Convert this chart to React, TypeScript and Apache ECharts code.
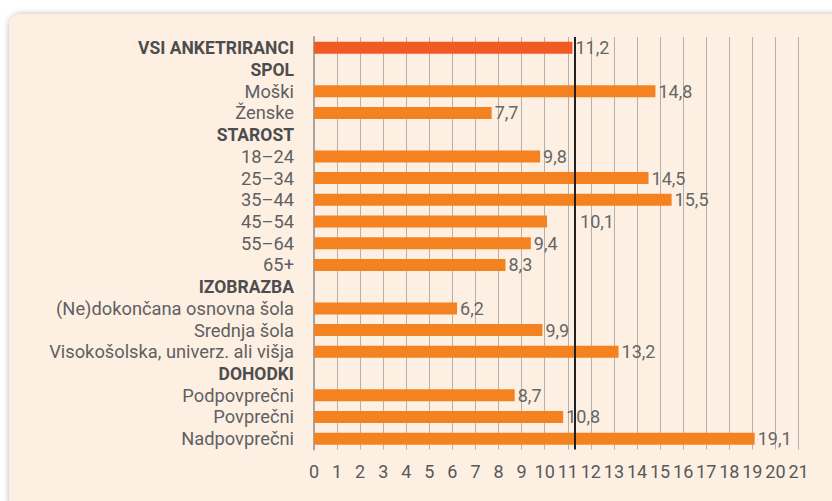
import React, { useEffect, useRef } from "react";
import * as echarts from "echarts";

const categories: string[] = [
  "VSI ANKETRIRANCI",
  "SPOL",
  "Moški",
  "Ženske",
  "STAROST",
  "18–24",
  "25–34",
  "35–44",
  "45–54",
  "55–64",
  "65+",
  "IZOBRAZBA",
  "(Ne)dokončana osnovna šola",
  "Srednja šola",
  "Visokošolska, univerz. ali višja",
  "DOHODKI",
  "Podpovprečni",
  "Povprečni",
  "Nadpovprečni",
];

const headers: string[] = ["VSI ANKETRIRANCI", "SPOL", "STAROST", "IZOBRAZBA", "DOHODKI"];

const values: (number | null)[] = [
  11.2, null, 14.8, 7.7, null, 9.8, 14.5, 15.5, 10.1, 9.4, 8.3, null, 6.2, 9.9, 13.2, null, 8.7, 10.8, 19.1,
];

const referenceLine = 11.3;
const axisMin = 0;
const axisMax = 21;
const axisStep = 1;

const FONT = "Roboto";

export default function App() {
  const ref = useRef<HTMLDivElement>(null);

  useEffect(() => {
    if (!ref.current) return;
    const chart = echarts.init(ref.current, null, { renderer: "svg" });
    const data = values.map((v, i) => {
      if (v == null) return "-";
      const item: any = {
        value: v,
        itemStyle: { color: i === 0 ? "#f15a22" : "#f58220" },
      };
      if (categories[i] === "45–54") item.label = { offset: [30, 0] };
      return item;
    });
    chart.setOption({
      animation: false,
      textStyle: { fontFamily: FONT },
      graphic: [
        {
          type: "rect",
          z: -10,
          silent: true,
          shape: { x: 9, y: 14, width: 840, height: 500, r: 12 },
          style: {
            fill: "#fdf0e3",
            shadowBlur: 6,
            shadowColor: "rgba(0,0,0,0.28)",
            shadowOffsetX: 0,
            shadowOffsetY: 0,
          },
        },
      ],
      grid: { left: 314, top: 37, right: 33.5, bottom: 51.5, containLabel: false },
      xAxis: {
        type: "value",
        min: axisMin,
        max: axisMax,
        interval: axisStep,
        axisLine: { show: false },
        axisTick: { show: false },
        splitLine: { show: true, lineStyle: { color: "#b3b0ad", width: 1 } },
        axisLabel: { color: "#58595b", fontSize: 18, margin: 13, fontFamily: FONT },
      },
      yAxis: {
        type: "category",
        inverse: true,
        data: categories,
        axisLine: { show: true, lineStyle: { color: "#a7a5a3", width: 2 } },
        axisTick: { show: false },
        axisLabel: {
          interval: 0,
          hideOverlap: false,
          margin: 20,
          fontSize: 18.3,
          color: "#5f6062",
          fontFamily: FONT,
          formatter: (v: string) => (headers.includes(v) ? `{b|${v}}` : v),
          rich: {
            b: { fontWeight: "bold", color: "#4d4d4f", fontSize: 17.5, fontFamily: FONT },
          },
        },
      },
      series: [
        {
          type: "bar",
          data,
          barWidth: 12,
          label: {
            show: true,
            position: "right",
            distance: 3,
            color: "#666666",
            fontSize: 18,
            fontFamily: FONT,
            formatter: (p: any) => Number(p.value).toFixed(1).replace(".", ","),
          },
          markLine: {
            silent: true,
            symbol: "none",
            label: { show: false },
            lineStyle: { color: "#231f20", width: 2, type: "solid" },
            data: [{ xAxis: referenceLine }],
          },
        },
      ],
    });
    return () => chart.dispose();
  }, []);

  return (
    <div style={{ position: "absolute", left: 0, top: 0, width: 832, height: 501, background: "#ffffff" }}>
      <div ref={ref} style={{ width: 832, height: 501 }} />
    </div>
  );
}
